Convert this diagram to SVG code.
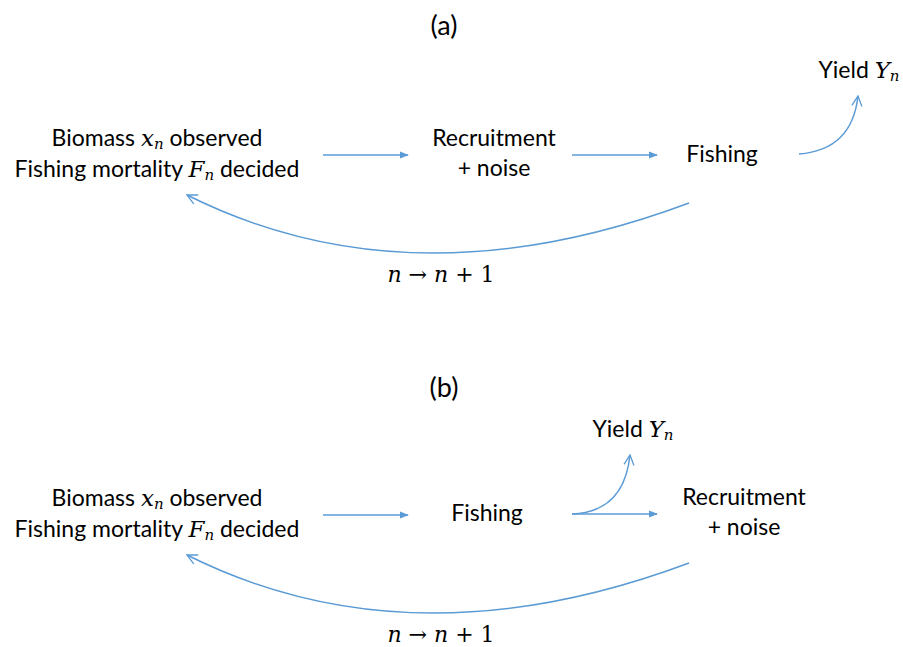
<svg xmlns="http://www.w3.org/2000/svg" width="903" height="647" viewBox="0 0 903 647">
<style>
.t{font-family:Lato,"Liberation Sans",sans-serif;font-size:23px;fill:#000;text-anchor:middle}
.h{font-family:Lato,"Liberation Sans",sans-serif;font-size:27px;fill:#000;text-anchor:middle}
.m{font-family:"DejaVu Serif","Liberation Serif",serif;font-style:italic}
.s{font-family:"DejaVu Serif","Liberation Serif",serif;font-style:italic;font-size:15px}
.r{font-family:"DejaVu Serif","Liberation Serif",serif;font-size:22px;fill:#000;text-anchor:middle}
.c{fill:none;stroke:#5b9bd5;stroke-width:1.5}
</style>
<defs>
<marker id="fa" viewBox="0 0 10 10" refX="9" refY="5" markerWidth="9" markerHeight="9" markerUnits="userSpaceOnUse" orient="auto"><path d="M0,1 L10,5 L0,9 Z" fill="#5b9bd5"/></marker>
<marker id="oa" viewBox="0 0 12 12" refX="11" refY="6" markerWidth="12" markerHeight="12" markerUnits="userSpaceOnUse" orient="auto"><path d="M1,1 L11,6 L1,11" fill="none" stroke="#5b9bd5" stroke-width="1.3"/></marker>
</defs>
<text class="h" x="444" y="35">(a)</text>
<text class="h" x="444" y="397">(b)</text>
<g id="a-biomass">
<text class="t" x="157" y="146">Biomass <tspan class="m">x</tspan><tspan class="s" dy="3">n</tspan><tspan dy="-3"> observed</tspan></text>
<text class="t" x="157" y="177">Fishing mortality <tspan class="m">F</tspan><tspan class="s" dy="3">n</tspan><tspan dy="-3"> decided</tspan></text>
</g>
<g id="a-recruit">
<text class="t" x="494" y="146">Recruitment</text>
<text class="t" x="494" y="176">+ noise</text>
</g>
<g id="a-fishing"><text class="t" x="722" y="162">Fishing</text></g>
<g id="a-yield"><text class="t" x="859" y="78">Yield <tspan class="m">Y</tspan><tspan class="s" dy="3">n</tspan></text></g>
<g id="a-step"><text class="r" x="441" y="282"><tspan class="m">n</tspan> → <tspan class="m">n</tspan> + 1</text></g>
<g id="b-biomass">
<text class="t" x="157" y="506">Biomass <tspan class="m">x</tspan><tspan class="s" dy="3">n</tspan><tspan dy="-3"> observed</tspan></text>
<text class="t" x="157" y="537">Fishing mortality <tspan class="m">F</tspan><tspan class="s" dy="3">n</tspan><tspan dy="-3"> decided</tspan></text>
</g>
<g id="b-fishing"><text class="t" x="487" y="521">Fishing</text></g>
<g id="b-yield"><text class="t" x="633" y="437">Yield <tspan class="m">Y</tspan><tspan class="s" dy="3">n</tspan></text></g>
<g id="b-recruit">
<text class="t" x="744" y="505">Recruitment</text>
<text class="t" x="744" y="535">+ noise</text>
</g>
<g id="b-step"><text class="r" x="441" y="642"><tspan class="m">n</tspan> → <tspan class="m">n</tspan> + 1</text></g>
<g id="connectors">
<path class="c" d="M323,155 L408,155" marker-end="url(#fa)"/>
<path class="c" d="M572,155 L657,155" marker-end="url(#fa)"/>
<path class="c" d="M799,154 Q852,150 858,96" marker-end="url(#oa)"/>
<path class="c" d="M689,203 Q411,307 187,195" marker-end="url(#oa)"/>
<path class="c" d="M323,515 L408,515" marker-end="url(#fa)"/>
<path class="c" d="M572,514 L657,514" marker-end="url(#fa)"/>
<path class="c" d="M572,514 Q624,512 630,455" marker-end="url(#oa)"/>
<path class="c" d="M689,563 Q411,667 187,555" marker-end="url(#oa)"/>
</g>
</svg>
